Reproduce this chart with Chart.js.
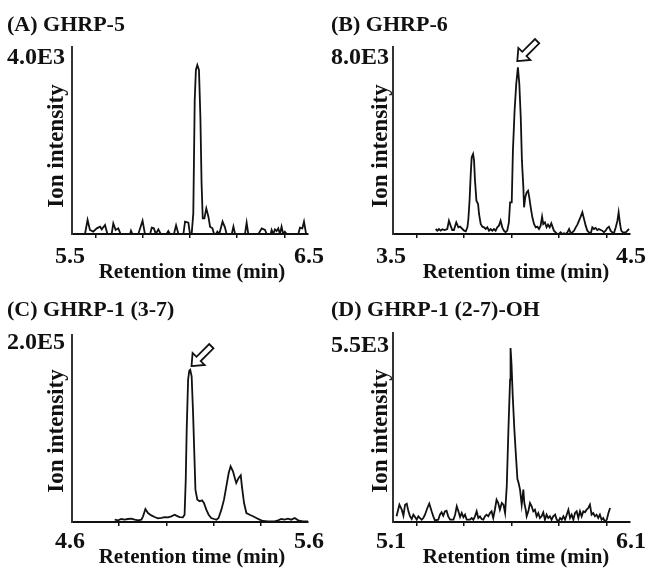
<!DOCTYPE html>
<html>
<head>
<meta charset="utf-8">
<script src="https://cdn.jsdelivr.net/npm/chart.js@4.4.1/dist/chart.umd.min.js"></script>
<style>
  html, body { margin: 0; padding: 0; background: #fff; }
  #wrap { position: relative; width: 648px; height: 570px; }
  #wrap canvas { position: absolute; }
</style>
</head>
<body>
<div id="wrap">
  <canvas id="panelA" width="324" height="285" style="left:0;top:0"></canvas>
  <canvas id="panelB" width="324" height="285" style="left:324px;top:0"></canvas>
  <canvas id="panelC" width="324" height="285" style="left:0;top:285px"></canvas>
  <canvas id="panelD" width="324" height="285" style="left:324px;top:285px"></canvas>
</div>
<script>
// (A) GHRP-5
const aTime = [5.555,5.566,5.576,5.590,5.605,5.619,5.626,5.640,5.650,5.668,5.675,5.685,5.696,5.706,5.746,5.750,5.756,5.781,5.799,5.809,
  5.831,5.838,5.847,5.855,5.866,5.876,5.901,5.908,5.915,5.932,5.941,5.951,5.972,5.979,5.993,6.000,6.007,6.014,6.020,6.025,
  6.031,6.038,6.044,6.049,6.054,6.061,6.069,6.078,6.085,6.095,6.102,6.110,6.116,6.124,6.138,6.148,6.155,6.177,6.184,6.191,
  6.233,6.240,6.247,6.290,6.304,6.318,6.325,6.342,6.346,6.353,6.360,6.367,6.374,6.381,6.388,6.395,6.402,6.410,6.459,6.466,
  6.476,6.483,6.492];
const aIntensity = [0,300,86,50,121,157,100,193,0,0,228,86,121,0,0,71,0,0,285,0,
  0,135,121,0,100,0,0,64,0,0,185,0,0,264,242,0,0,442,2866,3508,
  3615,3508,2510,1084,335,335,549,371,157,121,0,0,50,0,264,143,0,0,157,0,
  0,242,0,0,121,86,0,0,86,0,100,64,121,0,157,0,50,0,0,135,
  121,264,0];

// (B) GHRP-6
const bTime = [3.680,3.687,3.694,3.701,3.708,3.718,3.729,3.736,3.743,3.750,3.757,3.767,3.776,3.783,3.793,3.800,3.807,3.814,3.818,3.823,
  3.828,3.832,3.838,3.842,3.846,3.852,3.859,3.863,3.870,3.877,3.884,3.891,3.898,3.905,3.912,3.919,3.926,3.933,3.940,3.947,
  3.954,3.961,3.968,3.975,3.982,3.989,3.994,4.001,4.006,4.013,4.020,4.027,4.033,4.039,4.044,4.050,4.053,4.058,4.064,4.070,
  4.075,4.081,4.088,4.095,4.102,4.109,4.116,4.123,4.129,4.134,4.141,4.148,4.154,4.161,4.168,4.174,4.179,4.186,4.193,4.200,
  4.207,4.214,4.222,4.229,4.236,4.243,4.250,4.257,4.264,4.271,4.278,4.285,4.292,4.299,4.306,4.313,4.320,4.327,4.334,4.341,
  4.348,4.355,4.362,4.369,4.376,4.383,4.390,4.397,4.404,4.411,4.418,4.425,4.432,4.440,4.447,4.452,4.458,4.463,4.470,4.482,
  4.489,4.496];
const bIntensity = [214,143,214,143,200,171,214,570,357,171,171,499,285,314,214,143,114,285,642,1426,
  2567,3280,3422,3137,2282,1426,1283,856,428,314,285,214,285,143,214,143,214,143,285,357,
  570,285,143,71,143,499,1355,1355,3565,5276,6417,7130,6417,4991,3137,1996,1141,1569,1783,1854,
  1569,1141,713,428,285,314,214,357,742,428,499,285,399,285,456,285,143,71,0,0,
  71,0,29,0,71,214,29,71,143,285,399,570,742,927,642,357,143,71,0,285,
  214,257,171,214,171,143,71,143,257,314,143,71,29,285,570,927,428,143,71,71,
  143,214];

// (C) GHRP-1 (3-7)
const cTime = [4.781,4.795,4.809,4.823,4.837,4.851,4.866,4.880,4.894,4.901,4.911,4.922,4.936,4.950,4.964,4.979,4.993,5.007,5.021,5.035,
  5.042,5.056,5.070,5.077,5.082,5.086,5.092,5.097,5.101,5.107,5.113,5.123,5.131,5.141,5.151,5.159,5.169,5.179,5.190,5.202,
  5.212,5.221,5.233,5.244,5.254,5.264,5.272,5.282,5.292,5.296,5.306,5.315,5.320,5.329,5.339,5.353,5.367,5.381,5.395,5.409,
  5.431,5.459,5.473,5.487,5.501,5.515,5.529,5.544,5.558,5.579,5.600];
const cIntensity = [2500,1800,3200,2500,3200,3600,2500,1800,2500,6100,13900,9600,7100,5300,3900,4300,5300,5000,6100,7800,
  6800,5300,5000,7800,45300,98800,152200,161900,162900,155800,116600,34600,23900,22100,23200,20300,13200,7800,4300,3200,
  2500,4300,13200,23900,38100,52400,59500,54200,45300,41700,47100,49900,38100,20300,9600,7800,6100,4300,2500,1100,
  700,700,1800,3200,2500,3600,2500,4300,1800,700,700];

// (D) GHRP-1 (2-7)-OH
const dTime = [5.115,5.127,5.137,5.144,5.151,5.158,5.165,5.172,5.179,5.186,5.193,5.200,5.207,5.214,5.221,5.228,5.235,5.245,5.253,5.263,
  5.270,5.277,5.291,5.298,5.305,5.312,5.319,5.326,5.333,5.341,5.355,5.362,5.369,5.376,5.383,5.390,5.397,5.404,5.411,5.425,
  5.432,5.439,5.446,5.453,5.460,5.467,5.474,5.481,5.488,5.495,5.502,5.509,5.516,5.523,5.530,5.537,5.544,5.551,5.559,5.566,
  5.573,5.580,5.587,5.594,5.596,5.600,5.605,5.612,5.619,5.625,5.630,5.636,5.643,5.650,5.654,5.660,5.664,5.671,5.678,5.685,
  5.692,5.699,5.706,5.713,5.720,5.727,5.734,5.741,5.748,5.755,5.762,5.769,5.776,5.784,5.791,5.798,5.805,5.812,5.819,5.826,
  5.833,5.840,5.847,5.854,5.861,5.868,5.875,5.882,5.889,5.896,5.903,5.910,5.917,5.924,5.931,5.938,5.945,5.952,5.959,5.966,
  5.973,5.980,5.987,5.994,6.002,6.009,6.016];
const dIntensity = [165,504,359,184,504,534,310,165,87,213,146,68,165,116,68,116,213,407,534,310,
  165,48,68,213,281,184,310,330,165,68,68,213,456,310,146,262,136,213,68,68,
  116,68,165,310,116,165,87,68,165,213,165,262,310,116,359,650,553,359,553,504,
  262,1038,2687,4142,5063,4600,3700,2700,1900,1250,1135,941,504,941,553,359,165,310,553,456,
  310,359,165,262,116,165,281,68,213,116,165,68,165,213,68,19,116,68,165,68,
  213,359,116,213,68,262,310,116,310,165,310,281,359,407,504,213,262,165,213,116,
  213,68,116,10,68,262,407];

// tick marks under each x axis
const aTicks = [5.6, 5.8, 6.0, 6.2, 6.4];
const bTicks = [3.6, 3.8, 4.0, 4.2, 4.4];
const cTicks = [4.8, 5.0, 5.2, 5.4];
const dTicks = [5.2, 5.4, 5.6, 5.8, 6.0];

const FONT = '"Liberation Serif", "Times New Roman", serif';
const INK = '#111';

function drawArrow(ctx, tx, ty) {
    // hollow arrow pointing down-left, tip at (tx, ty)
    const k = Math.SQRT1_2;
    const pts = [[0, 0], [10, 8.5], [10, 3], [28, 3], [28, -3], [10, -3], [10, -8.5]];
    ctx.beginPath();
    pts.forEach(([u, v], i) => {
        const x = tx + u * k + v * k;
        const y = ty - u * k + v * k;
        i ? ctx.lineTo(x, y) : ctx.moveTo(x, y);
    });
    ctx.closePath();
    ctx.fillStyle = '#fff';
    ctx.fill();
    ctx.lineWidth = 1.8;
    ctx.lineJoin = 'miter';
    ctx.strokeStyle = INK;
    ctx.stroke();
}

const panelText = {
    id: 'panelText',
    afterDraw(chart, args, opts) {
        const { ctx, chartArea: a, scales: { x, y } } = chart;
        ctx.save();
        ctx.fillStyle = INK;
        ctx.textBaseline = 'middle';

        ctx.textAlign = 'left';
        ctx.font = `bold 22px ${FONT}`;
        ctx.fillText(opts.title, 7, 25);
        ctx.font = `bold 24px ${FONT}`;
        ctx.fillText(opts.yLabel, 7, opts.yLabelY + 1);

        ctx.textAlign = 'center';
        ctx.fillText(x.min.toFixed(1), a.left - 2, 257);
        ctx.fillText(x.max.toFixed(1), a.right + 1, 257);

        ctx.font = `bold 21px ${FONT}`;
        ctx.fillText('Retention time (min)', 192, 273);

        ctx.translate(57, 146);
        ctx.rotate(-Math.PI / 2);
        ctx.font = `bold 23px ${FONT}`;
        ctx.fillText('Ion intensity', 0, 0);
        ctx.restore();

        if (opts.arrow) {
            ctx.save();
            drawArrow(ctx, x.getPixelForValue(opts.arrow[0]), y.getPixelForValue(opts.arrow[1]));
            ctx.restore();
        }
    }
};

function renderPanel(canvasId, cfg) {
    const ctx = document.getElementById(canvasId);
    return new Chart(ctx, {
        type: 'line',
        data: {
            datasets: [{
                data: cfg.time.map((t, i) => ({ x: t, y: cfg.values[i] })),
                borderColor: INK,
                borderWidth: 1.8,
                pointRadius: 0,
                tension: 0,
                fill: false
            }]
        },
        options: {
            responsive: false,
            animation: false,
            layout: { padding: cfg.padding },
            plugins: {
                legend: { display: false },
                tooltip: { enabled: false },
                panelText: {
                    title: cfg.title,
                    yLabel: cfg.yLabel,
                    yLabelY: cfg.yLabelY,
                    arrow: cfg.arrow
                }
            },
            scales: {
                x: {
                    type: 'linear',
                    min: cfg.xMin,
                    max: cfg.xMax,
                    afterBuildTicks: s => { s.ticks = cfg.ticks.map(v => ({ value: v })); },
                    afterFit: s => { s.height = 4; },
                    ticks: { display: false },
                    grid: { display: true, drawOnChartArea: false, drawTicks: true, tickLength: 4, color: INK, lineWidth: 1.5 },
                    border: { display: true, color: INK, width: 2 }
                },
                y: {
                    min: 0,
                    max: cfg.yMax,
                    afterFit: s => { s.width = 0; },
                    ticks: { display: false },
                    grid: { display: false },
                    border: { display: true, color: '#333', width: 2 }
                }
            }
        },
        plugins: [panelText]
    });
}

renderPanel('panelA', {
    title: '(A) GHRP-5', yLabel: '4.0E3', yLabelY: 57, yMax: 4000,
    xMin: 5.5, xMax: 6.5, ticks: aTicks, time: aTime, values: aIntensity,
    padding: { left: 72, top: 47, right: 16, bottom: 47 }
});
renderPanel('panelB', {
    title: '(B) GHRP-6', yLabel: '8.0E3', yLabelY: 57, yMax: 8000,
    xMin: 3.5, xMax: 4.5, ticks: bTicks, time: bTime, values: bIntensity,
    padding: { left: 69, top: 47, right: 18, bottom: 47 },
    arrow: [4.0245, 7400]
});
renderPanel('panelC', {
    title: '(C) GHRP-1 (3-7)', yLabel: '2.0E5', yLabelY: 57, yMax: 200000,
    xMin: 4.6, xMax: 5.6, ticks: cTicks, time: cTime, values: cIntensity,
    padding: { left: 72, top: 50, right: 16, bottom: 44 },
    arrow: [5.1065, 166800]
});
renderPanel('panelD', {
    title: '(D) GHRP-1 (2-7)-OH', yLabel: '5.5E3', yLabelY: 60, yMax: 5500,
    xMin: 5.1, xMax: 6.1, ticks: dTicks, time: dTime, values: dIntensity,
    padding: { left: 69, top: 48, right: 18, bottom: 44 }
});
</script>
</body>
</html>
